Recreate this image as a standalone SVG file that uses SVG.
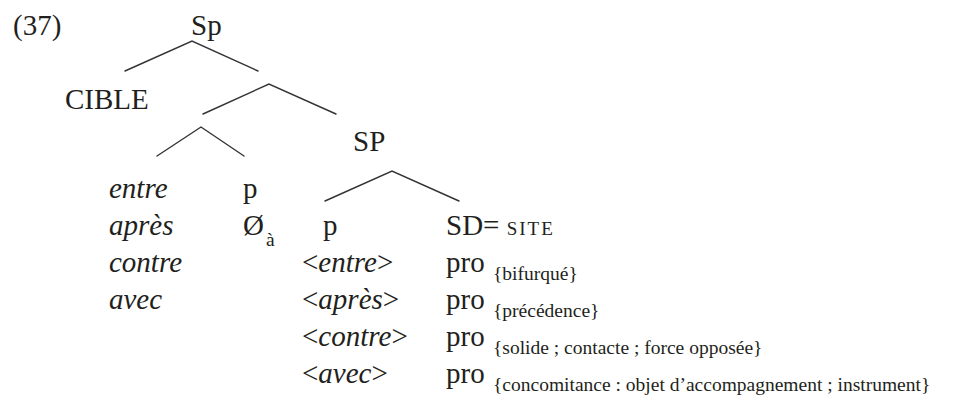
<svg xmlns="http://www.w3.org/2000/svg" width="973" height="400" viewBox="0 0 973 400" font-family="'Liberation Serif', 'DejaVu Serif', serif">
<style>
text{font-family:'Liberation Serif','DejaVu Serif',serif;font-size:29px;fill:#231f20}
.it{font-style:italic}
.sub{font-size:19.5px}
.sc{font-size:19px;letter-spacing:2px}
.edge{stroke:#333;stroke-width:1.4;fill:none;stroke-linecap:round}
</style>
<rect width="973" height="400" fill="#fff"/>
<g id="connectors">
<path class="edge" d="M125,71 L192,41 L258,71"/>
<path class="edge" d="M203,114 L269,84 L336,114"/>
<path class="edge" d="M157,156 L201,127 L244,156"/>
<path class="edge" d="M325,201 L392,171 L459,201"/>
</g>
<g id="example-number"><text x="13" y="35">(37)</text></g>
<g id="node-Sp"><text x="191" y="35">Sp</text></g>
<g id="node-CIBLE"><text x="65" y="109">CIBLE</text></g>
<g id="node-SP"><text x="353" y="151">SP</text></g>
<g id="node-prepositions">
<text class="it" x="109" y="198">entre</text>
<text class="it" x="109" y="235">après</text>
<text class="it" x="109" y="272">contre</text>
<text class="it" x="109" y="309">avec</text>
</g>
<g id="node-p1">
<text x="243" y="198">p</text>
<text x="243" y="235">Ø<tspan class="sub" x="266" y="246">à</tspan></text>
</g>
<g id="node-p2">
<text x="323" y="235">p</text>
<text x="302" y="272">&lt;<tspan class="it">entre</tspan>&gt;</text>
<text x="302" y="309">&lt;<tspan class="it">après</tspan>&gt;</text>
<text x="302" y="346">&lt;<tspan class="it">contre</tspan>&gt;</text>
<text x="302" y="383">&lt;<tspan class="it">avec</tspan>&gt;</text>
</g>
<g id="node-SD">
<text x="446" y="235">SD= <tspan class="sc">SITE</tspan></text>
<text x="446" y="272">pro <tspan class="sub" x="493" y="280">{bifurqué}</tspan></text>
<text x="446" y="309">pro <tspan class="sub" x="493" y="317">{précédence}</tspan></text>
<text x="446" y="346">pro <tspan class="sub" x="493" y="354">{solide ; contacte ; force opposée}</tspan></text>
<text x="446" y="383">pro <tspan class="sub" x="493" y="391">{concomitance : objet d’accompagnement ; instrument}</tspan></text>
</g>
</svg>
